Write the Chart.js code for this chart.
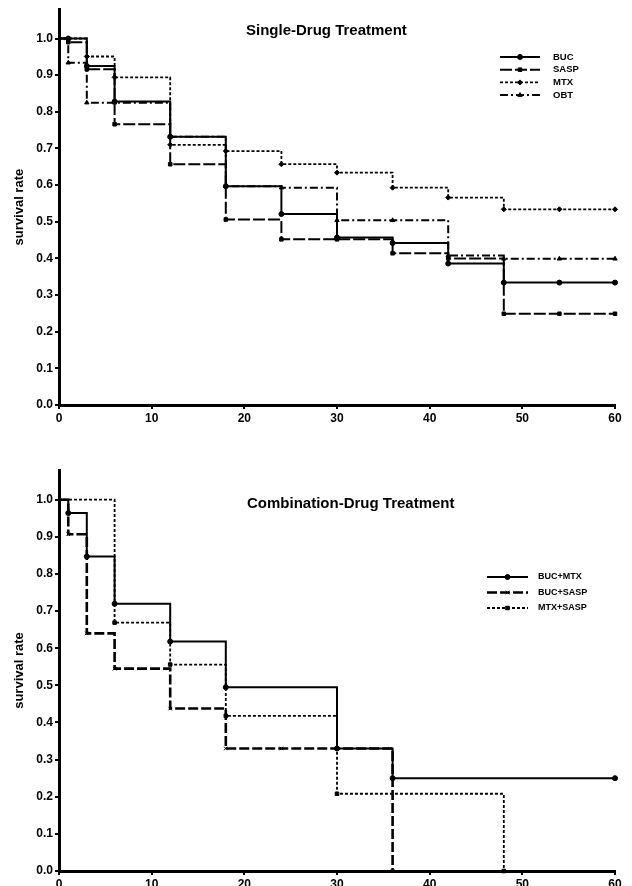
<!DOCTYPE html>
<html><head><meta charset="utf-8">
<script src="https://cdn.jsdelivr.net/npm/chart.js@4.4.1/dist/chart.umd.min.js"></script>
<style>
html,body{margin:0;padding:0;background:#fff;overflow:hidden;width:632px;height:886px;}
#top{position:absolute;left:0;top:0;width:632px;height:435px;}
#bot{position:absolute;left:0;top:440px;width:632px;height:470px;}
</style></head><body>
<div id="top"><canvas id="c1"></canvas></div>
<div id="bot"><canvas id="c2"></canvas></div>
<script>
// ---------- data ----------
const singleTitle = 'Single-Drug Treatment';
const comboTitle = 'Combination-Drug Treatment';
const yAxisLabel = 'survival rate';
const xTicks = [0, 10, 20, 30, 40, 50, 60];
const xTickLabels = ['0', '10', '20', '30', '40', '50', '60'];
const yTicks = [0, 0.1, 0.2, 0.3, 0.4, 0.5, 0.6, 0.7, 0.8, 0.9, 1.0];
const yTickLabels = ['0.0', '0.1', '0.2', '0.3', '0.4', '0.5', '0.6', '0.7', '0.8', '0.9', '1.0'];

const singleNames = ['BUC', 'SASP', 'MTX', 'OBT'];
const singleTimes = [0, 1, 3, 6, 12, 18, 24, 30, 36, 42, 48, 54, 60];
const bucSurv  = [1.0, 1.0,  0.925, 0.828, 0.732, 0.597, 0.521, 0.457, 0.442, 0.386, 0.334, 0.334, 0.334];
const saspSurv = [1.0, 0.99, 0.916, 0.766, 0.657, 0.506, 0.452, 0.452, 0.414, 0.400, 0.249, 0.249, 0.249];
const mtxSurv  = [1.0, 1.0,  0.951, 0.894, 0.710, 0.693, 0.657, 0.634, 0.593, 0.566, 0.534, 0.534, 0.534];
const obtSurv  = [1.0, 0.934, 0.825, 0.825, 0.732, 0.597, 0.593, 0.504, 0.504, 0.408, 0.399, 0.399, 0.399];

const comboNames = ['BUC+MTX', 'BUC+SASP', 'MTX+SASP'];
const bucMtxTimes  = [0, 1, 3, 6, 12, 18, 30, 36, 60];
const bucMtxSurv   = [1.0, 0.964, 0.847, 0.720, 0.618, 0.495, 0.330, 0.250, 0.250];
const bucSaspTimes = [0, 1, 3, 6, 12, 18, 24, 30, 36];
const bucSaspSurv  = [1.0, 0.907, 0.640, 0.545, 0.4375, 0.330, 0.330, 0.330, 0.0];
const mtxSaspTimes = [0, 6, 12, 18, 30, 48];
const mtxSaspSurv  = [1.0, 0.669, 0.556, 0.418, 0.208, 0.0];

// ---------- helpers ----------
const FONT = '"Liberation Sans", Arial, Helvetica, sans-serif';
const pairs = (xs, ys) => xs.map((x, i) => ({x: x, y: ys[i]}));

function ds(label, xs, ys, style) {
  return {
    label: label,
    data: pairs(xs, ys),
    stepped: 'before',
    borderColor: '#000',
    backgroundColor: '#000',
    borderWidth: style.w,
    borderDash: style.dash,
    pointStyle: style.ps,
    pointRadius: c => c.dataIndex === 0 ? 0 : 2.5,
    pointBackgroundColor: '#000',
    pointBorderColor: '#000',
    pointBorderWidth: 1,
    fill: false,
    clip: 8
  };
}

function drawMarker(ctx, style, x, y, r) {
  if (Chart.helpers && Chart.helpers.drawPoint) {
    Chart.helpers.drawPoint(ctx, {pointStyle: style, radius: r, borderWidth: 1, rotation: 0}, x, y);
  } else {
    ctx.beginPath(); ctx.arc(x, y, r, 0, Math.PI * 2); ctx.fill(); ctx.stroke();
  }
}

const overlay = {
  id: 'overlay',
  afterDraw(chart, args, o) {
    const ctx = chart.ctx;
    ctx.save();
    ctx.fillStyle = '#000';
    ctx.strokeStyle = '#000';
    ctx.font = 'bold 15px ' + FONT;
    ctx.textAlign = 'left';
    ctx.textBaseline = 'alphabetic';
    ctx.fillText(o.title, o.titleX, o.titleY);
    chart.data.datasets.forEach((d, i) => {
      const y = o.legY + i * o.legGap;
      ctx.beginPath();
      ctx.setLineDash(d.borderDash || []);
      ctx.lineWidth = d.borderWidth;
      ctx.moveTo(o.legX, y);
      ctx.lineTo(o.legX + o.legLen, y);
      ctx.stroke();
      ctx.setLineDash([]);
      ctx.lineWidth = 1;
      drawMarker(ctx, d.pointStyle, o.legX + o.legLen / 2, y, 2.5);
      ctx.font = 'bold ' + o.legFont + 'px ' + FONT;
      ctx.textBaseline = 'middle';
      ctx.fillText(d.label, o.legTextX, y);
    });
    ctx.restore();
  }
};

function makeOptions(cfg) {
  return {
    responsive: true,
    maintainAspectRatio: false,
    animation: false,
    layout: {padding: {top: cfg.padTop, right: 17, left: 0, bottom: 0}},
    plugins: {
      legend: {display: false},
      title: {display: false},
      tooltip: {enabled: false},
      overlay: cfg.overlay
    },
    scales: {
      x: {
        type: 'linear', min: 0, max: 60,
        afterBuildTicks: s => { s.ticks = xTicks.map(v => ({value: v})); },
        afterFit: s => { s.height = cfg.xAxisHeight; },
        grid: {display: true, drawOnChartArea: false, drawTicks: true, tickLength: 4, color: '#000', lineWidth: 2},
        border: {display: true, color: '#000', width: 3},
        ticks: {
          color: '#000', padding: 2, maxRotation: 0, autoSkip: false,
          font: {family: FONT, size: 12, weight: 'bold'},
          callback: (v, i) => xTickLabels[i]
        }
      },
      y: {
        type: 'linear', min: 0, max: 1.08,
        afterBuildTicks: s => { s.ticks = yTicks.map(v => ({value: v})); },
        afterFit: s => { s.width = 59; },
        grid: {display: true, drawOnChartArea: false, drawTicks: true, tickLength: 4, color: '#000', lineWidth: 2},
        border: {display: true, color: '#000', width: 3},
        ticks: {
          color: '#000', padding: 2, autoSkip: false,
          font: {family: FONT, size: 12, weight: 'bold'},
          callback: (v, i) => yTickLabels[i]
        },
        title: {
          display: true, text: yAxisLabel, color: '#000',
          font: {family: FONT, size: 13, weight: 'bold'},
          padding: {top: 12, bottom: 0}
        }
      }
    }
  };
}

// ---------- top chart ----------
new Chart(document.getElementById('c1'), {
  type: 'line',
  data: {
    datasets: [
      ds(singleNames[0], singleTimes, bucSurv,  {w: 2,   dash: [],          ps: 'circle'}),
      ds(singleNames[1], singleTimes, saspSurv, {w: 2,   dash: [12, 3],     ps: 'rect'}),
      ds(singleNames[2], singleTimes, mtxSurv,  {w: 1.8, dash: [3, 2],      ps: 'rectRot'}),
      ds(singleNames[3], singleTimes, obtSurv,  {w: 2,   dash: [8, 3, 2, 3], ps: 'triangle'})
    ]
  },
  options: makeOptions({
    padTop: 7, xAxisHeight: 30,
    overlay: {title: singleTitle, titleX: 246, titleY: 35,
              legX: 500, legLen: 40, legY: 57, legGap: 12.7, legTextX: 553, legFont: 9.5}
  }),
  plugins: [overlay]
});

// ---------- bottom chart ----------
new Chart(document.getElementById('c2'), {
  type: 'line',
  data: {
    datasets: [
      ds(comboNames[0], bucMtxTimes,  bucMtxSurv,  {w: 2,   dash: [],      ps: 'circle'}),
      ds(comboNames[1], bucSaspTimes, bucSaspSurv, {w: 2.6, dash: [10, 3], ps: 'crossRot'}),
      ds(comboNames[2], mtxSaspTimes, mtxSaspSurv, {w: 1.8, dash: [3, 2],  ps: 'rect'})
    ]
  },
  options: makeOptions({
    padTop: 30, xAxisHeight: 39,
    overlay: {title: comboTitle, titleX: 247, titleY: 68,
              legX: 487, legLen: 41, legY: 137, legGap: 15.5, legTextX: 538, legFont: 9}
  }),
  plugins: [overlay]
});
</script>
</body></html>
